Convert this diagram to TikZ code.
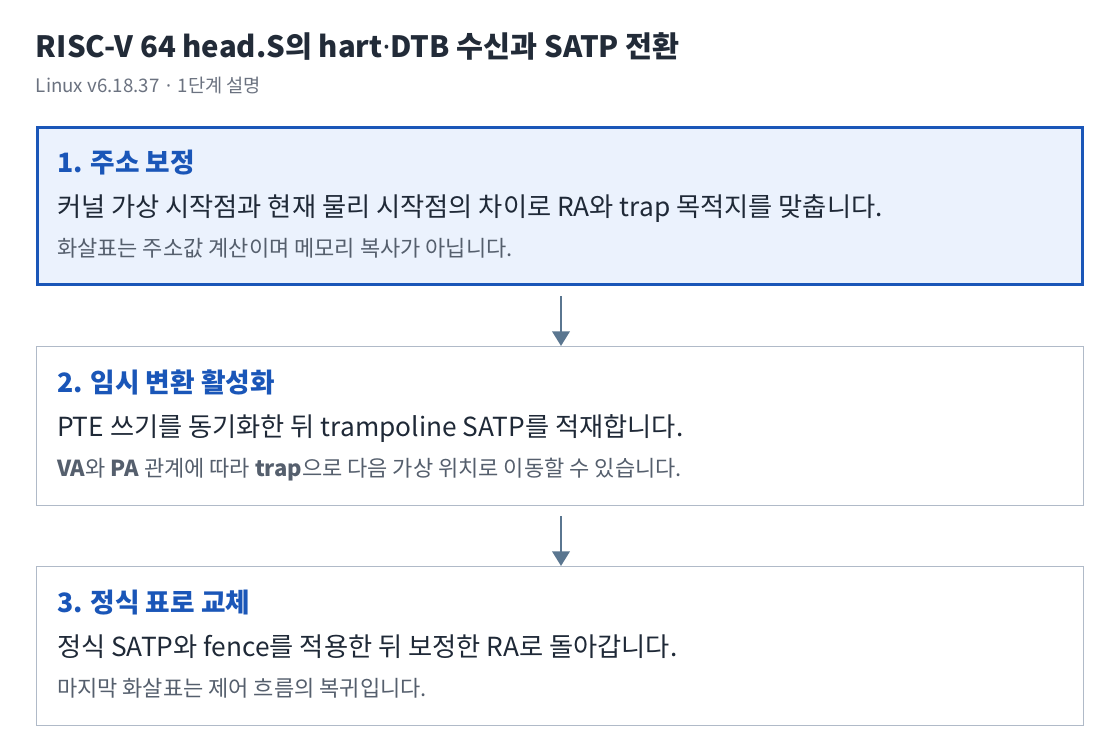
\documentclass[tikz,border=0pt]{standalone}
\usepackage{fontspec}
\setmainfont{Noto Sans CJK KR}
\newfontfamily\dotfont{Noto Sans}
\newcommand{\ndot}{{\dotfont ·}}
\usetikzlibrary{arrows.meta}
\definecolor{titlec}{HTML}{222B38}
\definecolor{subc}{HTML}{6B7280}
\definecolor{headc}{HTML}{1A56B8}
\definecolor{bodyc}{HTML}{1F2937}
\definecolor{notec}{HTML}{555F6D}
\definecolor{activefill}{HTML}{EBF2FD}
\definecolor{activeborder}{HTML}{1A56B8}
\definecolor{boxborder}{HTML}{B0BAC8}
\definecolor{arrowc}{HTML}{5A7690}
\tikzset{
  txt/.style={anchor=base west, inner sep=0pt, outer sep=0pt},
  titletxt/.style={txt, text=titlec, font=\fontsize{22pt}{26pt}\selectfont\bfseries},
  subtxt/.style={txt, text=subc, font=\fontsize{14pt}{16pt}\selectfont},
  headtxt/.style={txt, text=headc, font=\fontsize{20pt}{24pt}\selectfont\bfseries},
  bodytxt/.style={txt, text=bodyc, font=\fontsize{19.7pt}{23pt}\selectfont},
  notetxt/.style={txt, text=notec, font=\fontsize{16.5pt}{19pt}\selectfont},
  activebox/.style={draw=activeborder, fill=activefill, line width=2.25pt},
  stepbox/.style={draw=boxborder, fill=white, line width=0.75pt},
  flow/.style={draw=arrowc, line width=2pt, -{Triangle[width=13pt,length=11pt]}},
}
\begin{document}
\begin{tikzpicture}[x=0.75pt,y=-0.75pt]
\useasboundingbox[fill=white] (0,0) rectangle (1120,754);
\node[titletxt] (title) at (36,57) {RISC-V 64 head.S의 hart\ndot DTB 수신과 SATP 전환};
\node[subtxt] (sub) at (36,92) {Linux v6.18.37\hspace{5pt}\ndot\hspace{5pt}1단계 설명};

\draw[activebox] (37.5,127.5) rectangle (1082.5,284.5);
\coordinate (b1s) at (561,286);
\node[headtxt] (h1) at (57,172) {1. 주소 보정};
\node[bodytxt] (t1) at (57,216) {커널 가상 시작점과 현재 물리 시작점의 차이로 RA와 trap 목적지를 맞춥니다.};
\node[notetxt] (n1) at (57,256) {화살표는 주소값 계산이며 메모리 복사가 아닙니다.};

\draw[stepbox] (36.5,346.5) rectangle (1083.5,505.5);
\coordinate (b2n) at (561,346);
\coordinate (b2s) at (561,506);
\node[headtxt] (h2) at (57,392) {2. 임시 변환 활성화};
\node[bodytxt] (t2) at (57,436) {PTE 쓰기를 동기화한 뒤 trampoline SATP를 적재합니다.};
\node[notetxt] (n2) at (57,476) {\textbf{VA}와 \textbf{PA} 관계에 따라 \textbf{trap}으로 다음 가상 위치로 이동할 수 있습니다.};

\draw[stepbox] (36.5,566.5) rectangle (1083.5,725.5);
\coordinate (b3n) at (561,566);
\node[headtxt] (h3) at (57,612) {3. 정식 표로 교체};
\node[bodytxt] (t3) at (57,656) {정식 SATP와 fence를 적용한 뒤 보정한 RA로 돌아갑니다.};
\node[notetxt] (n3) at (57,696) {마지막 화살표는 제어 흐름의 복귀입니다.};

\draw[flow] ([yshift=-7.5pt]b1s) -- (b2n);
\draw[flow] ([yshift=-7.5pt]b2s) -- (b3n);
\end{tikzpicture}
\end{document}
